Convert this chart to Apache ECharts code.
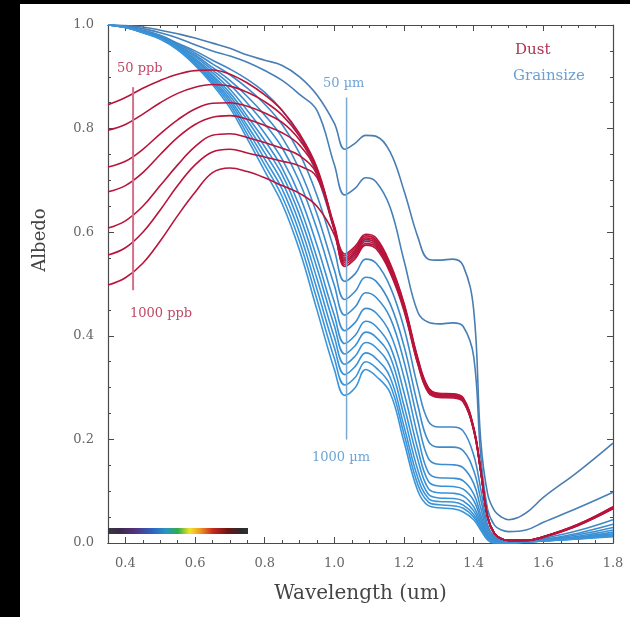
<!DOCTYPE html>
<html><head><meta charset="utf-8">
<script src="https://cdn.jsdelivr.net/npm/echarts@6/dist/echarts.min.js"></script>
<style>html,body{margin:0;padding:0;background:#fff}#c{width:630px;height:617px}</style>
</head><body><div id="c"></div>
<script>
// ---------- data ----------
const wavelength = [0.35,0.40,0.45,0.50,0.55,0.60,0.65,0.70,0.75,0.80,0.85,0.90,0.95,1.00,1.03,1.06,1.09,1.12,1.16,1.20,1.24,1.27,1.30,1.34,1.37,1.40,1.42,1.44,1.46,1.48,1.50,1.55,1.60,1.70,1.80];

// grain-size series (albedo), 50 µm ... 1000 µm
const grainLabels = ['50 µm','100 µm','150 µm','200 µm','250 µm','300 µm','350 µm','400 µm','500 µm','600 µm','700 µm','800 µm','1000 µm'];
const grain01 = [1.000,0.999,0.996,0.990,0.983,0.975,0.965,0.955,0.942,0.932,0.922,0.900,0.865,0.810, 0.760,0.772,0.787,0.785,0.755,0.680,0.590,0.548,0.546,0.548,0.535,0.450,0.200,0.095,0.062,0.050,0.045,0.058,0.088,0.138,0.193];
const grain02 = [1.000,0.998,0.993,0.985,0.975,0.962,0.950,0.940,0.928,0.912,0.893,0.866,0.835,0.730, 0.672,0.685,0.705,0.697,0.648,0.545,0.445,0.426,0.423,0.425,0.418,0.360,0.170,0.065,0.034,0.025,0.022,0.025,0.040,0.068,0.098];
const grain03 = [1.000,0.997,0.990,0.980,0.965,0.950,0.932,0.915,0.895,0.870,0.835,0.785,0.710,0.605, 0.545,0.560,0.585,0.578,0.530,0.455,0.350,0.295,0.285,0.284,0.276,0.220,0.140,0.050,0.018,0.008,0.005,0.005,0.012,0.035,0.068];
const grain04 = [1.000,0.997,0.989,0.979,0.963,0.946,0.925,0.904,0.878,0.847,0.808,0.752,0.671,0.565, 0.505,0.520,0.548,0.540,0.495,0.415,0.300,0.235,0.224,0.224,0.216,0.170,0.105,0.035,0.012,0.006,0.004,0.004,0.009,0.024,0.045];
const grain05 = [1.000,0.996,0.989,0.978,0.961,0.942,0.918,0.893,0.862,0.826,0.783,0.721,0.635,0.527, 0.470,0.486,0.513,0.505,0.462,0.380,0.265,0.196,0.185,0.185,0.178,0.140,0.085,0.028,0.009,0.004,0.003,0.003,0.007,0.019,0.036];
const grain06 = [1.000,0.996,0.988,0.977,0.960,0.939,0.913,0.885,0.849,0.809,0.763,0.697,0.606,0.497, 0.440,0.456,0.483,0.474,0.435,0.350,0.235,0.163,0.152,0.151,0.145,0.115,0.068,0.022,0.007,0.003,0.002,0.003,0.006,0.016,0.030];
const grain07 = [1.000,0.996,0.987,0.976,0.958,0.935,0.908,0.876,0.835,0.791,0.741,0.671,0.575,0.465, 0.410,0.426,0.453,0.444,0.405,0.320,0.205,0.136,0.126,0.125,0.120,0.095,0.055,0.017,0.005,0.002,0.002,0.003,0.005,0.013,0.025];
const grain08 = [1.000,0.996,0.987,0.976,0.957,0.933,0.903,0.869,0.824,0.777,0.724,0.650,0.550,0.439, 0.385,0.401,0.428,0.418,0.380,0.290,0.180,0.119,0.110,0.109,0.104,0.082,0.047,0.014,0.004,0.002,0.001,0.002,0.005,0.011,0.021];
const grain09 = [1.000,0.996,0.986,0.975,0.956,0.931,0.900,0.863,0.816,0.765,0.711,0.633,0.531,0.419, 0.365,0.381,0.407,0.397,0.360,0.265,0.160,0.105,0.097,0.096,0.091,0.070,0.040,0.011,0.003,0.001,0.001,0.002,0.004,0.010,0.018];
const grain10 = [1.000,0.995,0.986,0.974,0.955,0.928,0.896,0.857,0.806,0.753,0.697,0.616,0.510,0.397, 0.345,0.361,0.387,0.377,0.340,0.245,0.140,0.094,0.087,0.086,0.081,0.062,0.035,0.009,0.002,0.001,0.001,0.002,0.004,0.009,0.016];
const grain11 = [1.000,0.995,0.986,0.974,0.954,0.926,0.892,0.852,0.798,0.741,0.683,0.599,0.490,0.377, 0.325,0.341,0.367,0.356,0.320,0.225,0.125,0.086,0.080,0.079,0.073,0.055,0.031,0.008,0.001,0.000,0.000,0.002,0.004,0.009,0.014];
const grain12 = [1.000,0.995,0.985,0.973,0.953,0.924,0.889,0.846,0.789,0.730,0.669,0.582,0.470,0.356, 0.305,0.320,0.350,0.338,0.305,0.210,0.112,0.079,0.074,0.072,0.067,0.050,0.028,0.007,0.000,0.000,0.000,0.002,0.004,0.008,0.013];
const grain13 = [1.000,0.995,0.985,0.973,0.952,0.922,0.885,0.840,0.780,0.718,0.655,0.565,0.450,0.335, 0.285,0.300,0.335,0.322,0.290,0.195,0.100,0.072,0.068,0.066,0.060,0.045,0.025,0.006,0.000,0.000,0.000,0.002,0.004,0.008,0.012];

// dust series (albedo), 50 ppb ... 1000 ppb
const dustLabels = ['50 ppb','100 ppb','200 ppb','300 ppb','500 ppb','700 ppb','1000 ppb'];
const dust1 = [0.846,0.860,0.878,0.893,0.905,0.912,0.913,0.905,0.888,0.865,0.835,0.790,0.725,0.612, 0.558,0.573,0.596,0.589,0.540,0.463,0.356,0.300,0.289,0.288,0.280,0.223,0.142,0.051,0.018,0.008,0.005,0.005,0.012,0.036,0.070];
const dust2 = [0.797,0.808,0.828,0.850,0.868,0.880,0.885,0.882,0.870,0.852,0.826,0.785,0.722,0.610, 0.554,0.569,0.593,0.585,0.537,0.460,0.354,0.298,0.288,0.287,0.279,0.222,0.141,0.051,0.018,0.008,0.005,0.005,0.012,0.036,0.069];
const dust3 = [0.726,0.737,0.760,0.790,0.817,0.838,0.849,0.850,0.843,0.830,0.812,0.778,0.720,0.608, 0.550,0.565,0.589,0.582,0.534,0.458,0.352,0.297,0.287,0.286,0.278,0.221,0.141,0.050,0.018,0.008,0.005,0.005,0.012,0.035,0.069];
const dust4 = [0.678,0.690,0.715,0.750,0.783,0.808,0.822,0.825,0.818,0.806,0.792,0.768,0.716,0.606, 0.546,0.561,0.586,0.579,0.531,0.456,0.350,0.295,0.285,0.284,0.276,0.220,0.140,0.050,0.018,0.008,0.005,0.005,0.012,0.035,0.068];
const dust5 = [0.608,0.622,0.650,0.690,0.730,0.765,0.787,0.790,0.783,0.773,0.762,0.748,0.712,0.605, 0.542,0.557,0.582,0.575,0.528,0.453,0.348,0.293,0.284,0.283,0.275,0.219,0.139,0.050,0.018,0.008,0.005,0.005,0.012,0.035,0.067];
const dust6 = [0.556,0.570,0.600,0.643,0.690,0.730,0.755,0.760,0.753,0.745,0.737,0.728,0.706,0.603, 0.538,0.553,0.578,0.572,0.525,0.451,0.346,0.292,0.283,0.282,0.274,0.218,0.139,0.049,0.017,0.008,0.005,0.005,0.011,0.034,0.067];
const dust7 = [0.498,0.512,0.540,0.583,0.632,0.677,0.715,0.724,0.717,0.705,0.690,0.675,0.650,0.595, 0.534,0.549,0.575,0.568,0.522,0.448,0.344,0.290,0.281,0.280,0.272,0.217,0.138,0.049,0.017,0.008,0.005,0.005,0.011,0.034,0.066];

// axis ticks
const xMajorTicks = [0.4,0.6,0.8,1.0,1.2,1.4,1.6,1.8];
const xMinorTicks = [0.35,0.45,0.5,0.55,0.65,0.7,0.75,0.85,0.9,0.95,1.05,1.1,1.15,1.25,1.3,1.35,1.45,1.5,1.55,1.65,1.7,1.75];

// annotation markers and visible spectrum bar
const dustMarkerX = 0.422, dustMarkerRange = [0.488, 0.880];
const grainMarkerX = 1.035, grainMarkerRange = [0.200, 0.860];
const spectrumBarX = [0.35, 0.752], spectrumBarLevel = 0.023;

// ---------- chart ----------
const grainSeriesData = [grain01,grain02,grain03,grain04,grain05,grain06,grain07,grain08,grain09,grain10,grain11,grain12,grain13];
const dustSeriesData = [dust1,dust2,dust3,dust4,dust5,dust6,dust7];
const blueColors = ['#4a7db2','#4680b8','#4386c2','#3f89c8','#3d8bcc','#3c8dcf','#3b8fd2','#3a90d4','#3a91d6','#3a92d8','#3a93d9','#3a94da','#3a95db'];
const redColor = '#b8143c';
const FONT = 'DejaVu Serif';

const pairs = arr => wavelength.map((w, i) => [w, arr[i]]);
const series = [];
grainSeriesData.forEach((arr, k) => series.push({
  name: grainLabels[k], type: 'line', data: pairs(arr), showSymbol: false, smooth: 0.4,
  lineStyle: {color: blueColors[k], width: 1.6}, z: 2, silent: true
}));
dustSeriesData.forEach((arr, k) => series.push({
  name: dustLabels[k], type: 'line', data: pairs(arr), showSymbol: false, smooth: 0.4,
  lineStyle: {color: redColor, width: 1.6}, z: 3, silent: true
}));
series.push({type:'line', data: dustMarkerRange.map(v => [dustMarkerX, v]), showSymbol:false,
  lineStyle:{color:'#d4708a', width:2}, z:4, silent:true});
series.push({type:'line', data: grainMarkerRange.map(v => [grainMarkerX, v]), showSymbol:false,
  lineStyle:{color:'#7aaad2', width:1.5}, z:4, silent:true});
series.push({type:'line', data: spectrumBarX.map(v => [v, spectrumBarLevel]), showSymbol:false, silent:true, z:5,
  lineStyle:{width:6, cap:'butt', color:{type:'linear', x:0, y:0, x2:1, y2:0, colorStops:[
    {offset:0.00, color:'#3a3a3a'},{offset:0.10, color:'#3a2a4a'},{offset:0.20, color:'#55307a'},
    {offset:0.32, color:'#2d62c0'},{offset:0.42, color:'#2a95c0'},{offset:0.50, color:'#2fae48'},
    {offset:0.58, color:'#f2e32a'},{offset:0.65, color:'#ef9a22'},{offset:0.74, color:'#c4281e'},
    {offset:0.84, color:'#6e1414'},{offset:0.93, color:'#2a2a2a'},{offset:1.00, color:'#333333'}]}}});

const axisLineStyle = {show:true, lineStyle:{color:'#4a4a4a', width:1.2}};
const baseX = {type:'value', min:0.35, max:1.8, splitLine:{show:false}, axisLine: axisLineStyle};
const baseY = {type:'value', min:0, max:1, interval:0.2, splitLine:{show:false}, axisLine: axisLineStyle};

const option = {
  backgroundColor: '#fff',
  animation: false,
  grid: {left:108, top:25, right:17, bottom:74, containLabel:false},
  xAxis: [
    Object.assign({}, baseX, {position:'bottom',
      axisTick:{inside:true, length:6, customValues:xMajorTicks, lineStyle:{color:'#4a4a4a'}},
      axisLabel:{customValues:xMajorTicks, formatter:v=>v.toFixed(1), color:'#666', fontSize:13, fontFamily:FONT, margin:14},
      name:'Wavelength (um)', nameLocation:'middle', nameGap:41,
      nameTextStyle:{color:'#444', fontSize:20, fontFamily:FONT}}),
    Object.assign({}, baseX, {position:'bottom',
      axisTick:{inside:true, length:3, customValues:xMinorTicks, lineStyle:{color:'#4a4a4a'}}, axisLabel:{show:false}}),
    Object.assign({}, baseX, {position:'top',
      axisTick:{inside:true, length:6, customValues:xMajorTicks, lineStyle:{color:'#4a4a4a'}}, axisLabel:{show:false}}),
    Object.assign({}, baseX, {position:'top',
      axisTick:{inside:true, length:3, customValues:xMinorTicks, lineStyle:{color:'#4a4a4a'}}, axisLabel:{show:false}})
  ],
  yAxis: [
    Object.assign({}, baseY, {position:'left',
      axisTick:{inside:true, length:6, lineStyle:{color:'#4a4a4a'}},
      minorTick:{show:true, splitNumber:4, length:3, lineStyle:{color:'#4a4a4a'}},
      axisLabel:{formatter:v=>v.toFixed(1), color:'#666', fontSize:13, fontFamily:FONT, margin:14}}),
    Object.assign({}, baseY, {position:'right',
      axisTick:{inside:true, length:6, lineStyle:{color:'#4a4a4a'}},
      minorTick:{show:true, splitNumber:4, length:3, lineStyle:{color:'#4a4a4a'}},
      axisLabel:{show:false}})
  ],
  graphic: [
    {type:'rect', left:0, top:0, shape:{width:20, height:617}, style:{fill:'#000'}, silent:true},
    {type:'rect', left:0, top:0, shape:{width:630, height:4}, style:{fill:'#000'}, silent:true},
    {type:'text', x:40, y:240, rotation:Math.PI/2, style:{text:'Albedo', fill:'#444', font:'18px "DejaVu Serif"', align:'center', verticalAlign:'middle'}},
    {type:'text', left:117, top:62, style:{text:'50 ppb', fill:'#c04a68', font:'13px "DejaVu Serif"'}},
    {type:'text', left:130, top:307, style:{text:'1000 ppb', fill:'#c04a68', font:'13px "DejaVu Serif"'}},
    {type:'text', left:323, top:77, style:{text:'50 µm', fill:'#6ea5d6', font:'13px "DejaVu Serif"'}},
    {type:'text', left:312, top:451, style:{text:'1000 µm', fill:'#6ea5d6', font:'13px "DejaVu Serif"'}},
    {type:'text', left:515, top:43, style:{text:'Dust', fill:'#b0304e', font:'15px "DejaVu Serif"'}},
    {type:'text', left:513, top:69, style:{text:'Grainsize', fill:'#6a9fd2', font:'15px "DejaVu Serif"'}}
  ],
  series: series
};
series.forEach(s => { s.xAxisIndex = 0; s.yAxisIndex = 0; });
const chart = echarts.init(document.getElementById('c'), null, {renderer:'canvas'});
chart.setOption(option);
</script>
</body></html>
